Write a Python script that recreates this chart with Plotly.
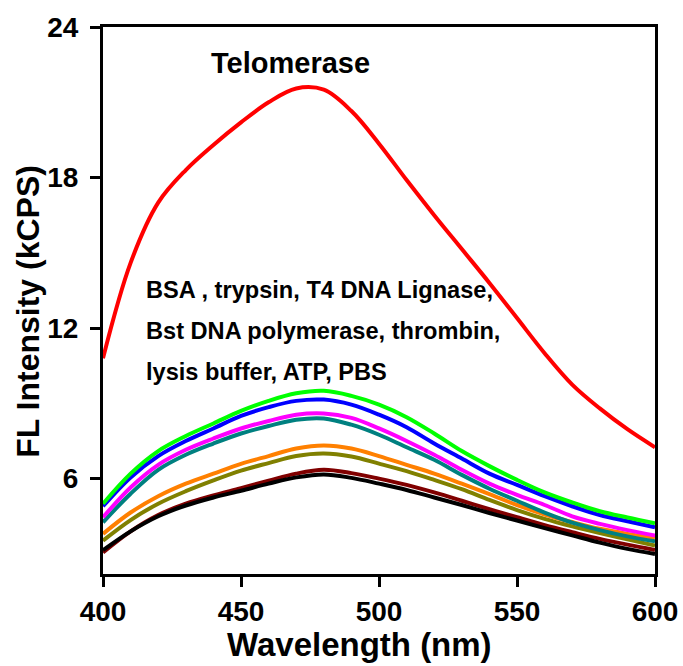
import plotly.graph_objects as go

# Emission spectra: wavelength grid (nm) and intensities (kCPS)
wavelength = [400, 410, 420, 430, 440, 450, 460, 470, 480, 490, 500,
              510, 520, 530, 540, 550, 560, 570, 580, 590, 600]

telomerase = [10.8, 14.6, 17.0, 18.3, 19.3, 20.2, 21.0, 21.55, 21.5, 20.65, 19.35,
              17.9, 16.5, 15.15, 13.8, 12.4, 11.0, 9.75, 8.8, 7.97, 7.25]
green_ctrl = [5.0, 6.2, 7.1, 7.7, 8.2, 8.7, 9.1, 9.4, 9.5, 9.3, 8.95,
              8.45, 7.8, 7.1, 6.5, 5.95, 5.45, 5.05, 4.7, 4.45, 4.22]
blue_ctrl = [4.9, 6.05, 6.9, 7.5, 8.0, 8.5, 8.85, 9.1, 9.15, 8.95, 8.55,
             8.05, 7.4, 6.8, 6.2, 5.75, 5.3, 4.9, 4.55, 4.3, 4.06]
magenta_ctrl = [4.46, 5.65, 6.55, 7.15, 7.6, 8.0, 8.3, 8.55, 8.6, 8.42, 8.0,
                7.5, 6.95, 6.35, 5.8, 5.35, 4.95, 4.5, 4.2, 3.95, 3.73]
teal_ctrl = [4.26, 5.4, 6.35, 6.95, 7.4, 7.8, 8.1, 8.35, 8.4, 8.15, 7.75,
             7.25, 6.75, 6.15, 5.6, 5.12, 4.65, 4.25, 3.95, 3.7, 3.5]
orange_ctrl = [3.8, 4.65, 5.3, 5.8, 6.2, 6.59, 6.9, 7.2, 7.32, 7.2, 6.9,
               6.55, 6.2, 5.8, 5.38, 4.95, 4.57, 4.27, 4.0, 3.8, 3.64]
olive_ctrl = [3.53, 4.35, 5.0, 5.5, 5.93, 6.32, 6.62, 6.9, 7.0, 6.88, 6.6,
              6.3, 5.95, 5.58, 5.15, 4.75, 4.4, 4.1, 3.83, 3.58, 3.33]
maroon_ctrl = [3.06, 3.9, 4.55, 5.0, 5.33, 5.62, 5.92, 6.2, 6.35, 6.22, 6.0,
               5.75, 5.45, 5.12, 4.78, 4.46, 4.15, 3.87, 3.6, 3.37, 3.16]
black_ctrl = [3.15, 3.9, 4.5, 4.93, 5.25, 5.52, 5.8, 6.05, 6.17, 6.03, 5.8,
              5.55, 5.25, 4.95, 4.63, 4.33, 4.03, 3.74, 3.45, 3.2, 3.0]

x_ticks = [400, 450, 500, 550, 600]
y_ticks = [6, 12, 18, 24]

# drawing order: bottom traces first, telomerase last
series = [
    (maroon_ctrl, "#800000"),
    (black_ctrl, "#000000"),
    (olive_ctrl, "#808000"),
    (orange_ctrl, "#FF8000"),
    (teal_ctrl, "#008080"),
    (magenta_ctrl, "#FF00FF"),
    (blue_ctrl, "#0000FF"),
    (green_ctrl, "#00FF00"),
    (telomerase, "#FF0000"),
]

FONT = "Liberation Sans, Arial, sans-serif"

fig = go.Figure()
for values, color in series:
    fig.add_trace(go.Scatter(
        x=wavelength, y=values, mode="lines",
        line=dict(color=color, width=4, shape="spline", smoothing=1.0),
        showlegend=False, hoverinfo="skip",
    ))

axis_common = dict(
    showgrid=False, zeroline=False, showline=True, linecolor="black",
    linewidth=3, mirror=True, ticks="outside", ticklen=10, tickwidth=3,
    tickcolor="black", automargin=False,
    tickfont=dict(family=FONT, size=28, color="black", weight="bold"),
)

fig.update_xaxes(range=[400, 600], tickvals=x_ticks, ticktext=[str(v) for v in x_ticks],
                 **axis_common)
fig.update_yaxes(range=[2.2, 24], tickvals=y_ticks, ticktext=[str(v) for v in y_ticks],
                 ticklabelstandoff=6, **axis_common)

annotations = [
    dict(text="Wavelength (nm)", xref="paper", yref="paper", x=0.465, y=-0.128,
         xanchor="center", yanchor="middle", showarrow=False,
         font=dict(family=FONT, size=33, color="black", weight="bold")),
    dict(text="FL Intensity (kCPS)", xref="paper", yref="paper", x=-0.136, y=0.481,
         xanchor="center", yanchor="middle", textangle=-90, showarrow=False,
         font=dict(family=FONT, size=32, color="black", weight="bold")),
    dict(text="Telomerase", x=468.1, y=22.56, xanchor="center", yanchor="middle",
         showarrow=False, font=dict(family=FONT, size=29, color="black", weight="bold")),
]
for label, yv in [("BSA , trypsin, T4 DNA Lignase,", 13.5),
                  ("Bst DNA polymerase, thrombin,", 11.87),
                  ("lysis buffer, ATP, PBS", 10.27)]:
    annotations.append(dict(text=label, x=415.0, y=yv, xanchor="left", yanchor="middle",
                            showarrow=False,
                            font=dict(family=FONT, size=23.6, color="black", weight="bold")))

fig.update_layout(
    width=683, height=666, autosize=False,
    margin=dict(l=103, r=28, t=27, b=92, pad=0),
    plot_bgcolor="white", paper_bgcolor="white",
    annotations=annotations,
)

fig.write_html("out.html", config={"responsive": False})
